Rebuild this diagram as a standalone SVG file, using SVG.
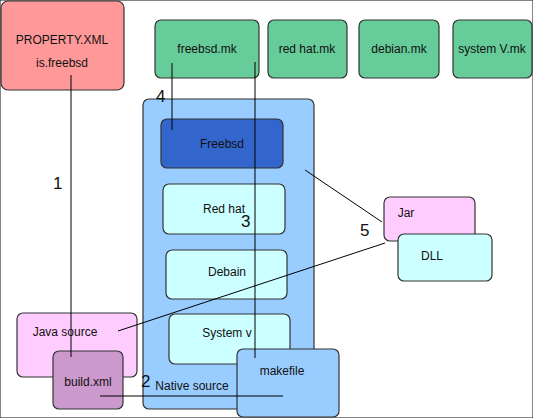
<svg xmlns="http://www.w3.org/2000/svg" width="533" height="418" viewBox="0 0 533 418">
<style>
rect{stroke:#333;stroke-width:1.2}
text{font-family:"Liberation Sans",Arial,sans-serif;font-size:12px;fill:#111;text-anchor:middle}
.n{font-size:17px;text-anchor:start}
.c line{stroke:#000;stroke-width:1}
</style>
<rect width="533" height="418" fill="#fff" stroke="none"/>
<g id="property"><rect x="1" y="1" width="123" height="89" rx="7" fill="#FF9999"/><text x="62" y="44">PROPERTY.XML</text><text x="62" y="67">is.freebsd</text></g>
<g id="freebsd-mk"><rect x="155" y="20" width="104" height="58" rx="6" fill="#66CC99"/><text x="207" y="53">freebsd.mk</text></g>
<g id="redhat-mk"><rect x="268" y="20" width="79" height="58" rx="6" fill="#66CC99"/><text x="307" y="53">red hat.mk</text></g>
<g id="debian-mk"><rect x="359" y="20" width="80" height="58" rx="6" fill="#66CC99"/><text x="399" y="53">debian.mk</text></g>
<g id="systemv-mk"><rect x="453" y="20" width="79" height="58" rx="6" fill="#66CC99"/><text x="492" y="53">system V.mk</text></g>
<g id="native"><rect x="143" y="99" width="171" height="310" rx="6" fill="#99CCFF"/><text x="192" y="390">Native source</text></g>
<g id="freebsd"><rect x="161" y="119" width="122" height="49" rx="6" fill="#3366CC"/><text x="222" y="148">Freebsd</text></g>
<g id="redhat"><rect x="163" y="184" width="122" height="50" rx="6" fill="#CCFFFF"/><text x="224" y="213">Red hat</text></g>
<g id="debain"><rect x="166" y="250" width="121" height="49" rx="6" fill="#CCFFFF"/><text x="227" y="276">Debain</text></g>
<g id="systemv"><rect x="169" y="314" width="121" height="50" rx="6" fill="#CCFFFF"/><text x="227" y="337">System v</text></g>
<g id="makefile"><rect x="237" y="349" width="102" height="68" rx="6" fill="#99CCFF"/><text x="282" y="375">makefile</text></g>
<g id="java"><rect x="17" y="313" width="120" height="64" rx="6" fill="#FFCCFF"/><text x="65" y="336">Java source</text></g>
<g id="build"><rect x="53" y="351" width="70" height="58" rx="6" fill="#CC99CC"/><text x="88" y="386">build.xml</text></g>
<g id="jar"><rect x="384" y="197" width="91" height="44" rx="6" fill="#FFCCFF"/><text x="406" y="217">Jar</text></g>
<g id="dll"><rect x="398" y="234" width="94" height="47" rx="6" fill="#CCFFFF"/><text x="432" y="260">DLL</text></g>
<g class="c" id="connectors">
<line x1="71" y1="75" x2="71" y2="357"/>
<line x1="172" y1="63" x2="172" y2="130"/>
<line x1="255" y1="62" x2="255" y2="358"/>
<line x1="100" y1="396" x2="283" y2="396"/>
<line x1="118" y1="331" x2="385" y2="243"/>
<line x1="305" y1="170" x2="382" y2="222"/>
</g>
<g id="labels">
<text class="n" x="53" y="189">1</text>
<text class="n" x="141" y="387">2</text>
<text class="n" x="241" y="227">3</text>
<text class="n" x="156" y="102">4</text>
<text class="n" x="360" y="236">5</text>
</g>
</svg>
